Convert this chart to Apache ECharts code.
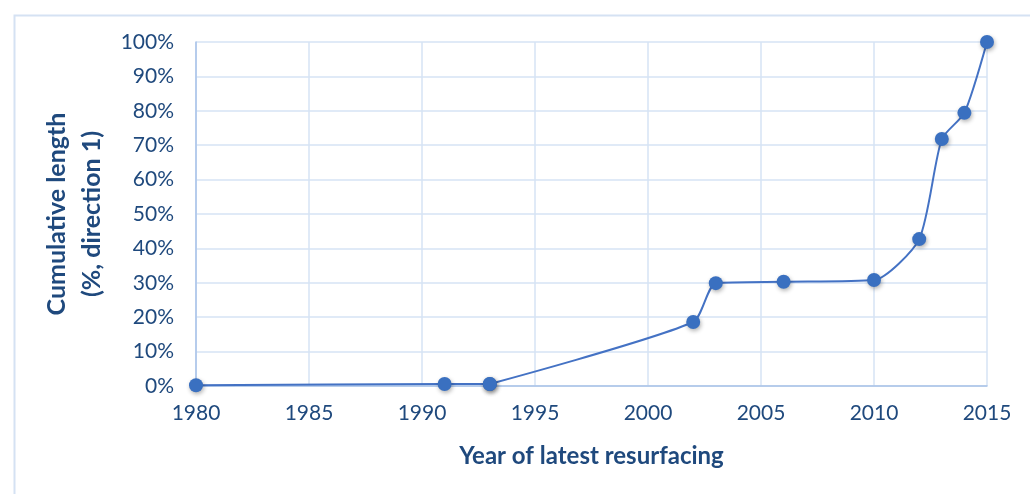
<!DOCTYPE html>
<html>
<head>
<meta charset="utf-8">
<script src="https://cdn.jsdelivr.net/npm/echarts@6/dist/echarts.min.js"></script>
<style>
html,body{margin:0;padding:0;background:#fff;}
#chart{width:1030px;height:494px;}
</style>
</head>
<body>
<div id="chart"></div>
<script>
var years = [1980, 1991, 1993, 2002, 2003, 2006, 2010, 2012, 2013, 2014, 2015];
var cumulativePct = [0.2, 0.6, 0.6, 18.6, 29.9, 30.3, 30.8, 42.7, 71.8, 79.4, 100];
var xTitle = 'Year of latest resurfacing';
var yTitle = 'Cumulative length\n(%, direction 1)';

var textColor = '#1f497d';
var fontFam = 'Lato, "Open Sans", sans-serif';

var points = years.map(function (y, i) { return [y, cumulativePct[i]]; });
var splitAt = 2; // 1993: curve restarts so the rise to 2002 stays straight, as in the original

function lineSeries(data) {
  return {
    type: 'line',
    data: data,
    smooth: 0.22,
    symbol: 'circle', symbolSize: 14,
    lineStyle: {color: '#4472c4', width: 2},
    itemStyle: {color: '#3a70c0', shadowBlur: 4, shadowColor: 'rgba(0,0,0,0.3)', shadowOffsetX: 1, shadowOffsetY: 2},
    clip: false
  };
}

var chart = echarts.init(document.getElementById('chart'));
chart.setOption({
  animation: false,
  backgroundColor: '#ffffff',
  graphic: [{
    type: 'rect', left: 12, top: 13, silent: true,
    shape: {width: 1100, height: 600},
    style: {fill: 'none', stroke: '#d5e2f3', lineWidth: 2}
  }],
  grid: {left: 196, right: 43, top: 42, bottom: 108, containLabel: false},
  xAxis: {
    type: 'value', min: 1980, max: 2015, interval: 5,
    name: xTitle, nameLocation: 'middle', nameGap: 58,
    nameTextStyle: {color: textColor, fontSize: 24, fontWeight: 'bold', fontFamily: fontFam},
    axisLine: {show: true, lineStyle: {color: '#a8c2e8', width: 1.5}},
    axisTick: {show: false},
    axisLabel: {color: textColor, fontSize: 21, fontFamily: fontFam, margin: 17,
      formatter: function (v) { return String(v); }},
    splitLine: {show: true, lineStyle: {color: '#d6e3f4', width: 1.5}}
  },
  yAxis: {
    type: 'value', min: 0, max: 100, interval: 10,
    name: yTitle, nameLocation: 'middle', nameGap: 83, nameRotate: 90,
    nameTextStyle: {color: textColor, fontSize: 25, fontWeight: 'bold', fontFamily: fontFam, lineHeight: 35},
    axisLine: {show: true, lineStyle: {color: '#a8c2e8', width: 1.5}},
    axisTick: {show: false},
    axisLabel: {color: textColor, fontSize: 21, fontFamily: fontFam, margin: 22, formatter: '{value}%'},
    splitLine: {show: true, lineStyle: {color: '#d6e3f4', width: 1.5}}
  },
  series: [
    lineSeries(points.slice(0, splitAt + 1)),
    lineSeries(points.slice(splitAt))
  ]
});
</script>
</body>
</html>
